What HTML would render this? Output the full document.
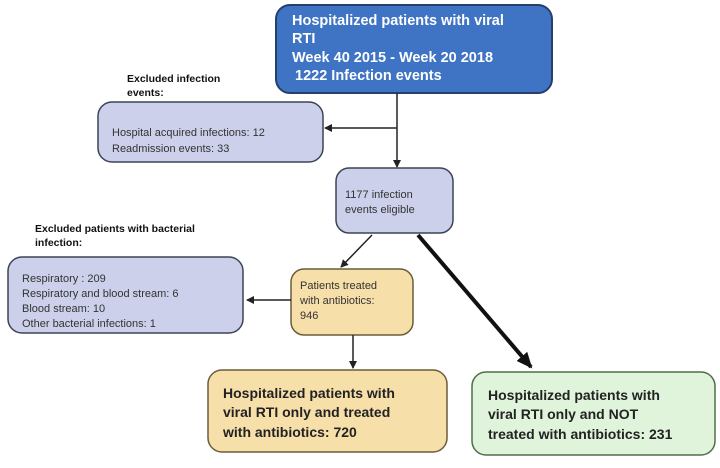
<!DOCTYPE html>
<html><head><meta charset="utf-8"><style>
body{margin:0;background:#fff;width:720px;height:463px;overflow:hidden}
text{font-family:"Liberation Sans",sans-serif}
</style></head><body>
<svg width="720" height="463" viewBox="0 0 720 463" xmlns="http://www.w3.org/2000/svg">
<defs>
<marker id="a" markerWidth="8" markerHeight="8" refX="7" refY="4" orient="auto" markerUnits="userSpaceOnUse"><path d="M0,0 L8,4 L0,8 z" fill="#222"/></marker>
<marker id="b" markerWidth="16" markerHeight="14" refX="14" refY="7" orient="auto" markerUnits="userSpaceOnUse"><path d="M0,0 L16,7 L0,14 z" fill="#111"/></marker>
</defs>
<rect x="276" y="5" width="276" height="88" rx="14" fill="#3f73c4" stroke="#26406b" stroke-width="2"/>
<g fill="#fff" font-weight="bold" font-size="14.5">
<text x="292" y="25">Hospitalized patients with viral</text>
<text x="292" y="43">RTI</text>
<text x="292" y="62">Week 40 2015 - Week 20 2018</text>
<text x="295" y="80">1222 Infection events</text>
</g>
<g font-weight="bold" font-size="10.5" fill="#111">
<text x="127" y="82">Excluded infection</text>
<text x="127" y="96">events:</text>
<text x="35" y="232">Excluded patients with bacterial</text>
<text x="35" y="246">infection:</text>
</g>
<rect x="98" y="102" width="225" height="60" rx="14" fill="#ccd0ea" stroke="#3b4454" stroke-width="1.5"/>
<g font-size="11" fill="#333"><text x="112" y="136">Hospital acquired infections: 12</text><text x="112" y="152">Readmission events: 33</text></g>
<line x1="397" y1="93" x2="397" y2="167" stroke="#222" stroke-width="1.5" marker-end="url(#a)"/>
<line x1="397" y1="128" x2="325" y2="128" stroke="#222" stroke-width="1.5" marker-end="url(#a)"/>
<rect x="336" y="168" width="117" height="65" rx="13" fill="#ccd0ea" stroke="#3b4454" stroke-width="1.5"/>
<g font-size="11" fill="#333"><text x="345" y="198">1177 infection</text><text x="345" y="213">events eligible</text></g>
<rect x="8" y="257" width="235" height="76" rx="14" fill="#ccd0ea" stroke="#3b4454" stroke-width="1.5"/>
<g font-size="11" fill="#333"><text x="22" y="282">Respiratory : 209</text><text x="22" y="297">Respiratory and blood stream: 6</text><text x="22" y="312">Blood stream: 10</text><text x="22" y="327">Other bacterial infections: 1</text></g>
<line x1="372" y1="235" x2="341" y2="267" stroke="#222" stroke-width="1.5" marker-end="url(#a)"/>
<line x1="418" y1="235" x2="531" y2="367" stroke="#111" stroke-width="4" marker-end="url(#b)"/>
<rect x="291" y="269" width="122" height="66" rx="13" fill="#f6dfa9" stroke="#6b5c3a" stroke-width="1.5"/>
<g font-size="11" fill="#333"><text x="300" y="289">Patients treated</text><text x="300" y="304">with antibiotics:</text><text x="300" y="319">946</text></g>
<line x1="291" y1="300" x2="247" y2="300" stroke="#222" stroke-width="1.5" marker-end="url(#a)"/>
<line x1="353" y1="335" x2="353" y2="368" stroke="#222" stroke-width="1.5" marker-end="url(#a)"/>
<rect x="208" y="370" width="239" height="82" rx="14" fill="#f6dfa9" stroke="#6b5c3a" stroke-width="1.5"/>
<g font-size="14" font-weight="bold" fill="#222"><text x="223" y="398">Hospitalized patients with</text><text x="223" y="417">viral RTI only and treated</text><text x="223" y="437">with antibiotics: 720</text></g>
<rect x="472" y="372" width="243" height="83" rx="14" fill="#dff4da" stroke="#4e6e48" stroke-width="1.5"/>
<g font-size="14" font-weight="bold" fill="#222"><text x="488" y="400">Hospitalized patients with</text><text x="488" y="419">viral RTI only and  NOT</text><text x="488" y="439">treated with antibiotics: 231</text></g>
</svg>
</body></html>
